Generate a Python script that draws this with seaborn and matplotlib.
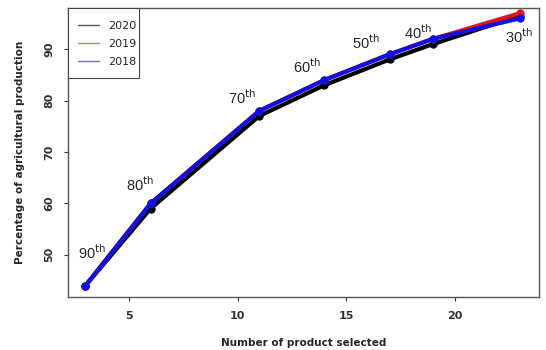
import numpy as np
import pandas as pd
import matplotlib
matplotlib.use("Agg")
import matplotlib.pyplot as plt
import seaborn as sns
from matplotlib.patches import Rectangle

# number of products selected and share of production covered
n_products = [3, 6, 11, 14, 17, 19, 23]
y2020 = [44, 59, 77, 83, 88, 91, 96.5]
y2019 = [44, 60, 78, 84, 89, 92, 97]
y2018 = [44, 60, 78, 84, 89, 92, 96]
pct_labels = ["90", "80", "70", "60", "50", "40", "30"]
label_y = [50.4, 63.6, 80.5, 86.5, 91.2, 93.3, 92.4]
label_x = [3.3, 5.5, 10.2, 13.2, 15.9, 18.3, 22.95]

df = pd.DataFrame({
    "n": n_products * 3,
    "pct": y2020 + y2019 + y2018,
    "year": ["2020"] * 7 + ["2019"] * 7 + ["2018"] * 7,
})

sns.set_style("white")
plt.rcParams["font.family"] = ["DejaVu Sans"]
fig = plt.figure(figsize=(5.46, 3.5), dpi=100)
ax = fig.add_axes([68 / 546, 53 / 350, (539 - 68) / 546, (297 - 8) / 350])

colors = {"2020": "black", "2019": "#e8121a", "2018": "#1010e0"}
for yr in ["2020", "2019", "2018"]:
    sns.lineplot(data=df[df.year == yr], x="n", y="pct", color=colors[yr],
                 marker="o", markersize=6, markeredgewidth=0, linewidth=3,
                 ax=ax, legend=False)

for lx, ly, t in zip(label_x, label_y, pct_labels):
    ax.text(lx, ly, t + "$^{\\mathrm{th}}$", fontsize=10.5, ha="center", va="center",
            family="Liberation Sans")

ax.set_xlim(2.2, 23.87)
ax.set_ylim(41.8, 98)
ax.set_xticks([5, 10, 15, 20])
ax.set_yticks([50, 60, 70, 80, 90])
ax.tick_params(axis="both", labelsize=8, length=3, width=0.8, direction="out",
               bottom=True, left=True, colors="#333333", pad=7)
for lab in ax.get_xticklabels() + ax.get_yticklabels():
    lab.set_fontweight("bold")
for lab in ax.get_yticklabels():
    lab.set_rotation(90)
    lab.set_va("center")
for s in ax.spines.values():
    s.set_color("#555555")
    s.set_linewidth(1)

ax.set_xlabel("Number of product selected", fontsize=7.5, fontweight="bold", labelpad=12)
ax.set_ylabel("Percentage of agricultural production", fontsize=7.5, fontweight="bold", labelpad=14)

# legend box like R's legend()
ax.add_patch(Rectangle((0, 1 - 70 / 289), 71 / 471, 70 / 289, transform=ax.transAxes,
                       facecolor="white", edgecolor="#444444", lw=0.8, zorder=5))
handles = [plt.Line2D([], [], color=c, lw=1) for c in ["#555555", "#e07070", "#7070d0"]]
leg = ax.legend(handles, ["2020", "2019", "2018"], loc="upper left",
                bbox_to_anchor=(10 / 471, 1 - 13 / 289),
                fontsize=8, frameon=False, borderaxespad=0, borderpad=0,
                handlelength=1.9, labelspacing=0.72, handletextpad=0.8)
leg.set_zorder(6)

fig.savefig("out.png", dpi=100)
